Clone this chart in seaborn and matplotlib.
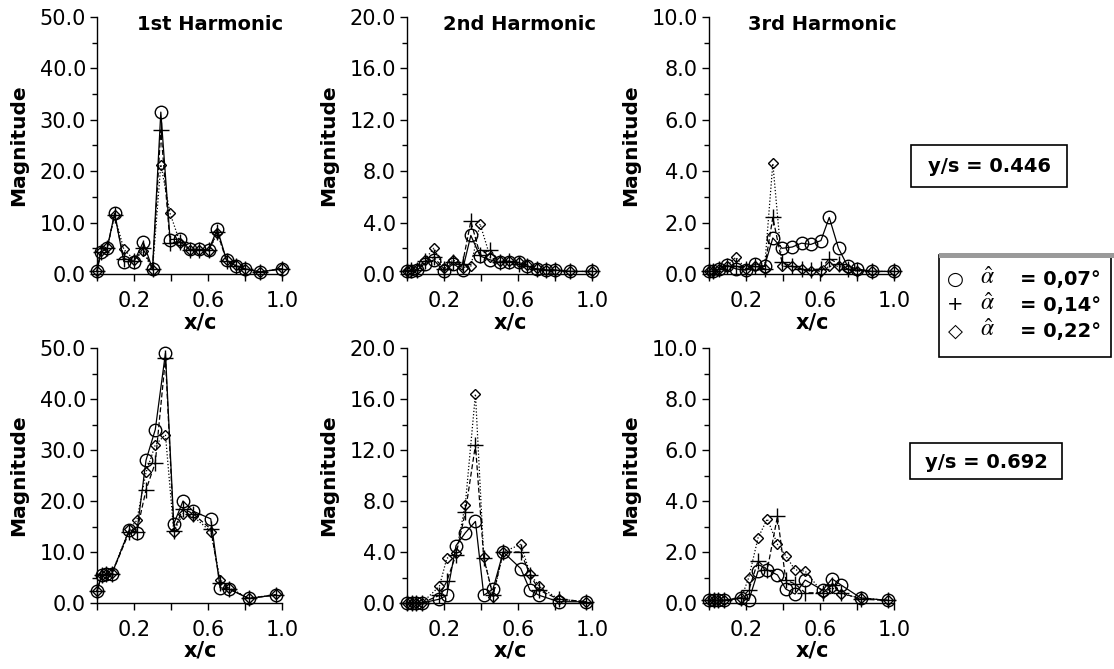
import matplotlib
matplotlib.use("Agg")
import matplotlib.pyplot as plt
from matplotlib.patches import Rectangle
import seaborn as sns

# chordwise tap positions for the two spanwise stations
x_ys446 = [0.0, 0.02, 0.055, 0.095, 0.145, 0.2, 0.25, 0.3, 0.345, 0.395,
           0.45, 0.5, 0.55, 0.605, 0.65, 0.7, 0.75, 0.8, 0.88, 1.0]
x_ys692 = [0.0, 0.025, 0.05, 0.08, 0.175, 0.215, 0.265, 0.315, 0.37, 0.415,
           0.465, 0.52, 0.615, 0.665, 0.715, 0.82, 0.97]

# y/s = 0.446, 1st harmonic
h1_446_a007 = [0.5, 4.2, 5.0, 11.8, 2.4, 2.4, 6.2, 1.0, 31.5, 6.7, 6.8, 4.8, 4.8, 4.7, 8.8, 2.7, 1.6, 1.0, 0.4, 1.0]
h1_446_a014 = [0.5, 4.3, 5.0, 11.5, 3.0, 2.5, 5.0, 0.9, 28.0, 6.0, 6.3, 4.7, 4.7, 4.6, 8.2, 2.6, 1.5, 1.0, 0.4, 1.0]
h1_446_a022 = [0.5, 4.5, 5.2, 11.4, 4.8, 2.8, 4.4, 0.8, 21.3, 11.8, 6.0, 4.7, 4.7, 4.5, 8.0, 2.8, 1.7, 1.0, 0.4, 1.1]
# y/s = 0.446, 2nd harmonic
h2_446_a007 = [0.2, 0.2, 0.3, 0.8, 1.1, 0.2, 0.8, 0.3, 3.0, 1.4, 1.1, 0.9, 0.9, 0.9, 0.6, 0.4, 0.3, 0.3, 0.2, 0.2]
h2_446_a014 = [0.2, 0.3, 0.3, 1.0, 1.3, 0.4, 0.9, 0.8, 4.1, 1.5, 1.9, 0.9, 1.0, 0.8, 0.6, 0.4, 0.3, 0.3, 0.2, 0.2]
h2_446_a022 = [0.2, 0.3, 0.4, 1.1, 2.0, 0.5, 1.1, 0.5, 0.6, 3.9, 1.3, 1.0, 1.0, 0.9, 0.7, 0.5, 0.3, 0.3, 0.2, 0.2]
# y/s = 0.446, 3rd harmonic
h3_446_a007 = [0.1, 0.1, 0.2, 0.35, 0.2, 0.15, 0.4, 0.3, 1.4, 1.0, 1.05, 1.2, 1.15, 1.3, 2.2, 1.0, 0.3, 0.2, 0.1, 0.1]
h3_446_a014 = [0.1, 0.1, 0.2, 0.3, 0.3, 0.2, 0.3, 0.2, 2.2, 0.45, 0.3, 0.2, 0.15, 0.2, 0.6, 0.4, 0.2, 0.15, 0.1, 0.1]
h3_446_a022 = [0.1, 0.1, 0.2, 0.3, 0.65, 0.2, 0.3, 0.2, 4.3, 0.3, 0.3, 0.2, 0.1, 0.1, 0.3, 0.3, 0.2, 0.1, 0.1, 0.1]

# y/s = 0.692, 1st harmonic
h1_692_a007 = [2.3, 5.5, 5.6, 5.7, 14.4, 13.8, 28.0, 34.0, 49.0, 15.5, 20.0, 18.0, 16.5, 3.0, 2.7, 0.9, 1.6]
h1_692_a014 = [2.3, 5.5, 5.6, 5.7, 14.0, 14.0, 22.2, 27.5, 48.0, 14.2, 18.5, 17.5, 14.5, 4.0, 2.8, 0.9, 1.6]
h1_692_a022 = [2.3, 5.5, 5.6, 5.8, 14.5, 16.2, 25.6, 31.0, 33.0, 14.0, 17.5, 17.0, 14.0, 4.6, 3.0, 0.9, 1.7]
# y/s = 0.692, 2nd harmonic
h2_692_a007 = [0.0, 0.0, 0.0, 0.0, 0.3, 0.6, 4.5, 5.5, 6.4, 0.6, 1.1, 4.0, 2.7, 1.0, 0.6, 0.1, 0.1]
h2_692_a014 = [0.0, 0.0, 0.0, 0.0, 0.6, 1.7, 3.8, 7.1, 12.4, 3.5, 0.6, 4.0, 4.0, 2.2, 1.0, 0.3, 0.1]
h2_692_a022 = [0.0, 0.0, 0.0, 0.0, 1.3, 3.5, 3.9, 7.7, 16.4, 3.6, 0.5, 4.0, 4.6, 2.3, 1.3, 0.3, 0.1]
# y/s = 0.692, 3rd harmonic
h3_692_a007 = [0.1, 0.1, 0.1, 0.1, 0.2, 0.1, 1.25, 1.3, 1.1, 0.55, 0.35, 0.9, 0.5, 0.95, 0.7, 0.2, 0.1]
h3_692_a014 = [0.1, 0.1, 0.1, 0.1, 0.2, 0.5, 1.65, 1.3, 3.4, 0.9, 0.75, 0.4, 0.4, 0.7, 0.4, 0.15, 0.1]
h3_692_a022 = [0.1, 0.1, 0.1, 0.1, 0.2, 1.0, 2.55, 3.3, 2.3, 1.85, 1.3, 1.25, 0.4, 0.6, 0.35, 0.2, 0.1]

titles = ["1st Harmonic", "2nd Harmonic", "3rd Harmonic"]
y_max = [50.0, 20.0, 10.0]
y_major = [10.0, 4.0, 2.0]
x_ticks = [0.0, 0.2, 0.4, 0.6, 0.8, 1.0]
x_ticklabels = ["", "0.2", "", "0.6", "", "1.0"]
station_labels = ["y/s = 0.446", "y/s = 0.692"]
amp_labels = ["= 0,07°", "= 0,14°", "= 0,22°"]
amp_symbols = ["○", "+", "◇"]

rows = [
    (x_ys446, [[h1_446_a007, h1_446_a014, h1_446_a022],
               [h2_446_a007, h2_446_a014, h2_446_a022],
               [h3_446_a007, h3_446_a014, h3_446_a022]]),
    (x_ys692, [[h1_692_a007, h1_692_a014, h1_692_a022],
               [h2_692_a007, h2_692_a014, h2_692_a022],
               [h3_692_a007, h3_692_a014, h3_692_a022]]),
]

# one style per oscillation amplitude: open circle / plus / open diamond
series_styles = [
    dict(marker="o", markersize=9, linestyle="-"),
    dict(marker="+", markersize=11, linestyle=(0, (4, 2))),
    dict(marker="D", markersize=5.5, linestyle=(0, (1, 1.6))),
]

sns.set_style("ticks")
plt.rcParams["font.family"] = ["DejaVu Sans"]
plt.rcParams["mathtext.fontset"] = "stix"
plt.rcParams["text.color"] = "black"
plt.rcParams["axes.labelcolor"] = "black"

W, H = 1114, 669
fig = plt.figure(figsize=(W / 100, H / 100), dpi=100)

col_left = [97, 407, 709]
row_top = [17, 348]
row_bot = [274, 603]
ax_w = 185

for r, (xs, harmonics) in enumerate(rows):
    for c, series in enumerate(harmonics):
        ax = fig.add_axes([col_left[c] / W, 1 - row_bot[r] / H,
                           ax_w / W, (row_bot[r] - row_top[r]) / H])
        for ys, st in zip(series, series_styles):
            sns.lineplot(x=xs, y=ys, ax=ax, color="black", lw=0.9,
                         mfc="none", mec="black", mew=1.0, clip_on=False,
                         estimator=None, sort=False, errorbar=None, **st)
        ax.set_xlim(0, 1.0)
        ax.set_ylim(0, y_max[c])
        ax.set_xticks(x_ticks)
        ax.set_xticklabels(x_ticklabels)
        step = y_major[c]
        n = int(round(y_max[c] / step))
        ax.set_yticks([i * step for i in range(n + 1)])
        ax.set_yticklabels([f"{i * step:.1f}" for i in range(n + 1)])
        ax.set_yticks([(i + 0.5) * step for i in range(n)], minor=True)
        ax.tick_params(axis="y", which="major", direction="out", length=5,
                       width=1, pad=3, labelsize=15, colors="black")
        ax.tick_params(axis="y", which="minor", direction="out", length=3.5,
                       width=1, colors="black")
        ax.tick_params(axis="x", which="major", direction="out", length=5,
                       width=1, pad=7, labelsize=15, colors="black")
        for side in ("top", "right"):
            ax.spines[side].set_visible(False)
        for side in ("left", "bottom"):
            ax.spines[side].set_linewidth(1.0)
            ax.spines[side].set_color("black")
        ax.set_facecolor("none")
        ax.set_ylabel("Magnitude", fontsize=14.5, fontweight="bold", labelpad=8)
        ax.set_xlabel("x/c", fontsize=15, fontweight="bold")
        ax.xaxis.set_label_coords(0.56, -0.148)
        if r == 0:
            ax.text(0.61, 0.97, titles[c], transform=ax.transAxes,
                    ha="center", va="center", fontsize=14, fontweight="bold")

# annotation layer in pixel coordinates
ov = fig.add_axes([0, 0, 1, 1])
ov.set_xlim(0, W)
ov.set_ylim(H, 0)
ov.axis("off")
ov.patch.set_alpha(0)

for (x0, y0, x1, y1), label in zip([(911, 145, 1067, 187), (910, 443, 1062, 479)],
                                   station_labels):
    ov.add_patch(Rectangle((x0, y0), x1 - x0, y1 - y0, fill=False,
                           edgecolor="black", lw=1.2))
    ov.text((x0 + x1) / 2, (y0 + y1) / 2 + 1, label, ha="center", va="center",
            fontsize=14, fontweight="bold")

# amplitude key
ov.add_patch(Rectangle((939, 255), 172, 102, fill=False, edgecolor="black", lw=1.2))
ov.add_patch(Rectangle((939, 253), 175, 5, facecolor="#9a9a9a", edgecolor="none"))
row_y = [279, 305, 331]
for yy, sym, lab in zip(row_y, amp_symbols, amp_labels):
    ov.text(955, yy, sym, ha="center", va="center", fontsize=14)
    ov.text(987, yy - 2, r"$\hat{\alpha}$", ha="center", va="center", fontsize=17)
    ov.text(1020, yy, lab, ha="left", va="center", fontsize=14, fontweight="bold")

fig.savefig("out.png", dpi=100, facecolor="white")
